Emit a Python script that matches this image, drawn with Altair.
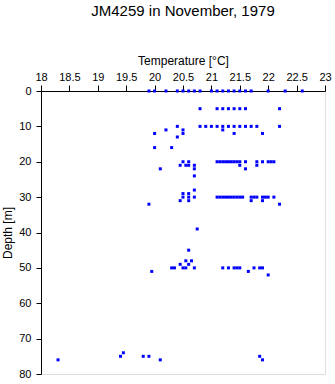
import altair as alt
import pandas as pd

# Depth rows [m] and the temperatures [°C] measured at each
d0 = [19.9, 20.0, 20.2, 20.4, 20.5, 20.6, 20.7, 20.8, 21.0, 21.1, 21.2, 21.3, 21.4, 21.5, 21.6, 21.7, 22.0, 22.3, 22.6]
d5 = [20.8, 21.1, 21.2, 21.3, 21.4, 21.5, 21.6, 22.2]
d10 = [20.4, 20.8, 20.9, 21.0, 21.1, 21.2, 21.3, 21.4, 21.5, 21.6, 21.7, 21.8, 22.2]
d11 = [20.2, 20.5, 21.2]
d12 = [20.0, 20.5, 21.4, 21.9]
d13 = [20.4]
d16 = [20.0, 20.3]
d20 = [20.5, 20.6, 21.1, 21.15, 21.2, 21.25, 21.3, 21.35, 21.4, 21.45, 21.5, 21.6, 21.8, 21.9, 22.0, 22.05, 22.1]
d21 = [20.45, 20.55, 20.6, 20.7, 21.5, 21.8]
d22 = [20.1, 20.7, 21.6]
d24 = [20.7]
d28 = [20.7]
d29 = [20.5, 20.6]
d30 = [20.5, 20.6, 20.7, 21.1, 21.15, 21.2, 21.25, 21.3, 21.35, 21.4, 21.45, 21.5, 21.55, 21.7, 21.75, 21.8, 21.9, 21.95, 22.0, 22.1]
d31 = [20.45, 20.6, 21.7, 21.9]
d32 = [19.9, 22.2]
d39 = [20.75]
d45 = [20.6]
d48 = [20.55, 20.65]
d49 = [20.45, 20.6]
d50 = [20.3, 20.35, 20.5, 20.55, 20.7, 21.2, 21.3, 21.4, 21.45, 21.5, 21.75, 21.85, 21.9]
d51 = [19.95, 21.65]
d52 = [22.0]
d74 = [19.45]
d75 = [19.4, 19.8, 19.9, 21.85]
d76 = [18.3, 20.1, 21.9]

rows = {0: d0, 5: d5, 10: d10, 11: d11, 12: d12, 13: d13, 16: d16, 20: d20,
        21: d21, 22: d22, 24: d24, 28: d28, 29: d29, 30: d30, 31: d31, 32: d32,
        39: d39, 45: d45, 48: d48, 49: d49, 50: d50, 51: d51, 52: d52,
        74: d74, 75: d75, 76: d76}

x_ticks = [18, 18.5, 19, 19.5, 20, 20.5, 21, 21.5, 22, 22.5, 23]
y_ticks = [0, 10, 20, 30, 40, 50, 60, 70, 80]

records = [{"depth": d, "temp": t} for d, temps in rows.items() for t in temps]
df = pd.DataFrame(records)

FONT = "Liberation Sans"

chart = alt.Chart(df).mark_square(size=9, color="#0000ff", opacity=1).encode(
    x=alt.X("temp:Q",
            scale=alt.Scale(domain=[18, 23], nice=False, zero=False),
            axis=alt.Axis(orient="top", values=x_ticks, format="~g",
                          title="Temperature [°C]", grid=False,
                          domainColor="black", tickColor="black",
                          tickSize=6, labelPadding=3, titlePadding=4,
                          labelFont=FONT, labelFontSize=11, labelColor="black",
                          titleFont=FONT, titleFontSize=12, titleFontWeight="normal",
                          titleColor="black", labelFlush=False)),
    y=alt.Y("depth:Q",
            scale=alt.Scale(domain=[0, 80], reverse=True, nice=False),
            axis=alt.Axis(values=y_ticks, title="Depth [m]", grid=False,
                          domainColor="black", tickColor="black",
                          tickSize=5, labelPadding=5, titlePadding=4,
                          labelFont=FONT, labelFontSize=11, labelColor="black",
                          titleFont=FONT, titleFontSize=12, titleFontWeight="normal",
                          titleColor="black", labelFlush=False)),
).properties(
    width=284,
    height=283,
    padding={"left": 41, "top": 91, "right": 10, "bottom": 10},
    autosize=alt.AutoSizeParams(type="none"),
    title=alt.TitleParams("JM4259 in November, 1979", font=FONT, fontSize=15,
                          fontWeight="normal", color="black", anchor="middle",
                          offset=35),
).configure_view(stroke=None).configure(background="white")

chart.save("out.html", embed_options={"renderer": "svg", "actions": False})
